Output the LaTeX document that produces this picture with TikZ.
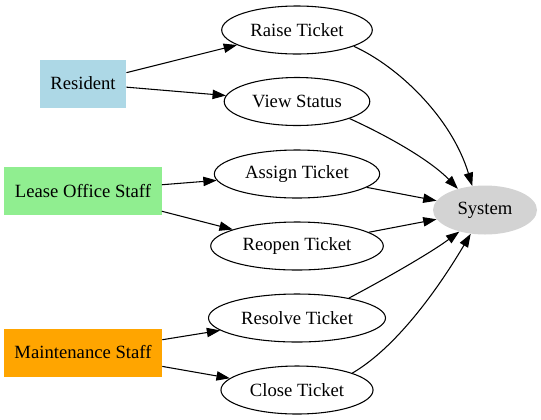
\documentclass[tikz,border=0pt]{standalone}
\usepackage{fontspec}
\setmainfont{Liberation Serif}
\usetikzlibrary{shapes.geometric,arrows.meta}
\definecolor{residentblue}{HTML}{ADD8E6}
\definecolor{leasegreen}{HTML}{90EE90}
\definecolor{maintorange}{HTML}{FFA500}
\definecolor{systemgray}{HTML}{D3D3D3}
\begin{document}
\begin{tikzpicture}[x=0.75pt,y=-0.75pt,font=\fontsize{14pt}{16pt}\selectfont,
      actor/.style={fill=#1, minimum height=36pt, inner xsep=7.9pt},
      usecase/.style={draw, ellipse, line width=0.8pt, minimum height=36pt, inner xsep=5pt},
      sys/.style={ellipse, fill=systemgray, minimum width=78pt, minimum height=36.75pt},
      flow/.style={line width=0.8pt, -{Triangle[length=10pt,width=7pt]}}]
    \useasboundingbox (0,0) rectangle (541,419);
    \node[actor=residentblue] (res)   at (83,83.5) {Resident};
    \node[actor=leasegreen]   (lease) at (83,191)  {Lease Office Staff};
    \node[actor=maintorange]  (maint) at (83,352.5) {Maintenance Staff};
    \node[usecase] (raise)   at (297,30)    {Raise Ticket};
    \node[usecase] (view)    at (297,101.5) {View Status};
    \node[usecase] (assign)  at (297,174)   {Assign Ticket};
    \node[usecase] (reopen)  at (297,246)   {Reopen Ticket};
    \node[usecase] (resolve) at (297,318)   {Resolve Ticket};
    \node[usecase] (close)   at (297,390)   {Close Ticket};
    \node[sys] (system) at (485,210) {System};
    \draw[flow] (res) -- (raise);
    \draw[flow] (res) -- (view);
    \draw[flow] (lease) -- (assign);
    \draw[flow] (lease) -- (reopen);
    \draw[flow] (maint) -- (resolve);
    \draw[flow] (maint) -- (close);
    \draw[flow] (raise.-16) .. controls (398.5,66.5) and (451.7,117.8) .. (system.118);
    \draw[flow] (view.-18) .. controls (383.6,134) and (428.7,158.7) .. (system.142);
    \draw[flow] (assign) -- (system);
    \draw[flow] (reopen) -- (system);
    \draw[flow] (resolve.21) .. controls (380.8,281.2) and (429,254) .. (system.220);
    \draw[flow] (close.17) .. controls (399.3,345.5) and (442,282.3) .. (system.239);
  \end{tikzpicture}
\end{document}
